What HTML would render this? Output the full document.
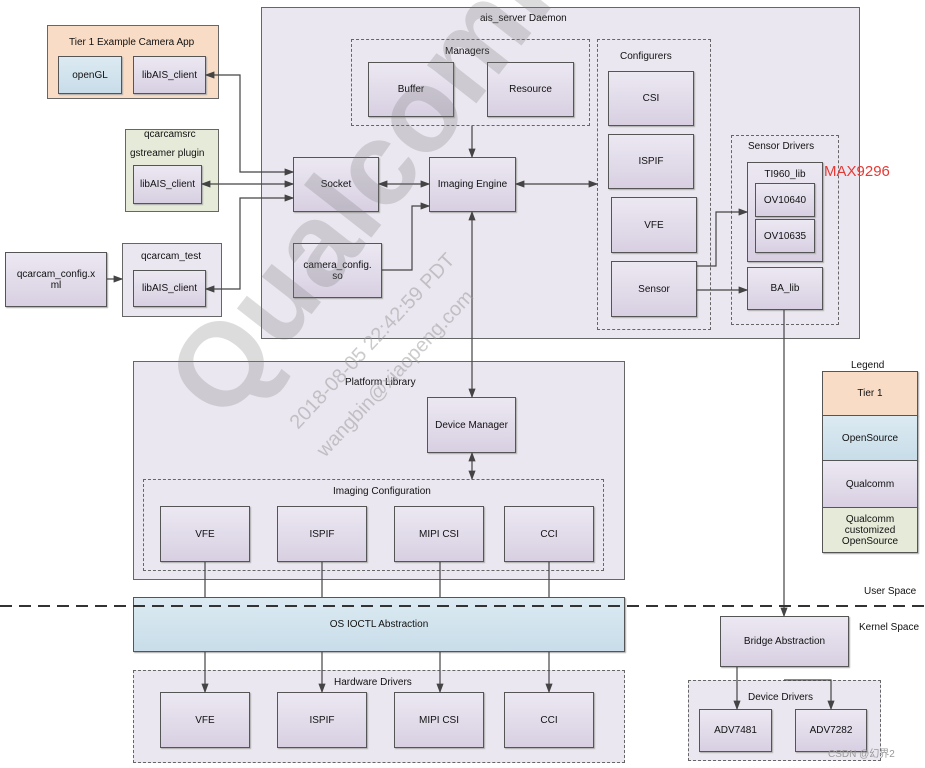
<!DOCTYPE html>
<html><head><meta charset="utf-8"><style>
body{margin:0;width:925px;height:768px;background:#fff;position:relative;overflow:hidden;font-family:"Liberation Sans","Noto Sans CJK SC",sans-serif;font-size:10px;color:#111}
.b{position:absolute;box-sizing:border-box;border:1.5px solid #555;background:linear-gradient(#ece8f2,#d8d0e2);display:flex;align-items:center;justify-content:center;text-align:center;box-shadow:1px 1px 1px #aaa}
.c{position:absolute;box-sizing:border-box;border:1px solid #666;background:#ebe7f0}
.d{position:absolute;box-sizing:border-box;border:1px dashed #666}
.t{position:absolute;font-size:10px;white-space:nowrap}
</style></head><body>
<div class="c" style="left:261px;top:7px;width:599px;height:332px"></div>
<div class="t" style="left:480px;top:13px">ais_server Daemon</div>
<div class="d" style="left:351px;top:39px;width:239px;height:87px"></div>
<div class="t" style="left:445px;top:46px">Managers</div>
<div class="b" style="left:368px;top:62px;width:86px;height:55px">Buffer</div>
<div class="b" style="left:487px;top:62px;width:87px;height:55px">Resource</div>
<div class="c" style="left:47px;top:25px;width:172px;height:74px;background:#f9dcc6"></div>
<div class="t" style="left:69px;top:37px">Tier 1 Example Camera App</div>
<div class="b" style="left:58px;top:56px;width:64px;height:38px;background:linear-gradient(#dceaf2,#c8dde9)">openGL</div>
<div class="b" style="left:133px;top:56px;width:73px;height:38px">libAIS_client</div>
<div class="c" style="left:125px;top:129px;width:94px;height:83px;background:#e6ebd9"></div>
<div class="t" style="left:144px;top:129px">qcarcamsrc</div>
<div class="t" style="left:130px;top:148px">gstreamer plugin</div>
<div class="b" style="left:133px;top:165px;width:69px;height:39px">libAIS_client</div>
<div class="b" style="left:5px;top:252px;width:102px;height:55px">qcarcam_config.x<br>ml</div>
<div class="c" style="left:122px;top:243px;width:100px;height:74px"></div>
<div class="t" style="left:141px;top:251px">qcarcam_test</div>
<div class="b" style="left:133px;top:270px;width:73px;height:37px">libAIS_client</div>
<div class="b" style="left:293px;top:157px;width:86px;height:55px">Socket</div>
<div class="b" style="left:429px;top:157px;width:87px;height:55px">Imaging Engine</div>
<div class="b" style="left:293px;top:243px;width:89px;height:55px">camera_config.<br>so</div>
<div class="d" style="left:597px;top:39px;width:114px;height:291px"></div>
<div class="t" style="left:620px;top:51px">Configurers</div>
<div class="b" style="left:608px;top:71px;width:86px;height:55px">CSI</div>
<div class="b" style="left:608px;top:134px;width:86px;height:55px">ISPIF</div>
<div class="b" style="left:611px;top:197px;width:86px;height:56px">VFE</div>
<div class="b" style="left:611px;top:261px;width:86px;height:56px">Sensor</div>
<div class="d" style="left:731px;top:135px;width:108px;height:190px"></div>
<div class="t" style="left:748px;top:141px">Sensor Drivers</div>
<div class="b" style="left:747px;top:162px;width:76px;height:100px;align-items:flex-start;padding-top:6px">TI960_lib</div>
<div class="t" style="left:824px;top:163px;color:#e53935;font-size:15px">MAX9296</div>
<div class="b" style="left:755px;top:183px;width:60px;height:34px">OV10640</div>
<div class="b" style="left:755px;top:219px;width:60px;height:34px">OV10635</div>
<div class="b" style="left:747px;top:267px;width:76px;height:43px">BA_lib</div>
<div class="c" style="left:133px;top:361px;width:492px;height:219px"></div>
<div class="t" style="left:345px;top:377px">Platform Library</div>
<div class="b" style="left:427px;top:397px;width:89px;height:56px">Device Manager</div>
<div class="d" style="left:143px;top:479px;width:461px;height:92px"></div>
<div class="t" style="left:333px;top:486px">Imaging Configuration</div>
<div class="b" style="left:160px;top:506px;width:90px;height:56px">VFE</div>
<div class="b" style="left:277px;top:506px;width:90px;height:56px">ISPIF</div>
<div class="b" style="left:394px;top:506px;width:90px;height:56px">MIPI CSI</div>
<div class="b" style="left:504px;top:506px;width:90px;height:56px">CCI</div>
<div class="b" style="left:133px;top:597px;width:492px;height:55px;background:linear-gradient(#dceaf2,#c8dde9)">OS IOCTL Abstraction</div>
<div class="d" style="left:133px;top:670px;width:492px;height:93px;background:#ebe7f0"></div>
<div class="t" style="left:334px;top:677px">Hardware Drivers</div>
<div class="b" style="left:160px;top:692px;width:90px;height:56px">VFE</div>
<div class="b" style="left:277px;top:692px;width:90px;height:56px">ISPIF</div>
<div class="b" style="left:394px;top:692px;width:90px;height:56px">MIPI CSI</div>
<div class="b" style="left:504px;top:692px;width:90px;height:56px">CCI</div>
<div class="t" style="left:851px;top:360px">Legend</div>
<div class="b" style="left:822px;top:371px;width:96px;height:45px;background:#f9dcc6">Tier 1</div>
<div class="b" style="left:822px;top:415px;width:96px;height:46px;background:linear-gradient(#dceaf2,#c8dde9)">OpenSource</div>
<div class="b" style="left:822px;top:460px;width:96px;height:48px">Qualcomm</div>
<div class="b" style="left:822px;top:507px;width:96px;height:46px;background:#e6ebd9">Qualcomm<br>customized<br>OpenSource</div>
<div class="t" style="left:864px;top:586px">User Space</div>
<div class="t" style="left:859px;top:622px">Kernel Space</div>
<div class="b" style="left:720px;top:616px;width:129px;height:51px">Bridge Abstraction</div>
<div class="d" style="left:688px;top:680px;width:193px;height:81px;background:#ebe7f0"></div>
<div class="t" style="left:748px;top:692px">Device Drivers</div>
<div class="b" style="left:699px;top:709px;width:73px;height:43px">ADV7481</div>
<div class="b" style="left:795px;top:709px;width:72px;height:43px">ADV7282</div>
<div class="t" style="left:828px;top:745px;color:#999">CSDN @幻界2</div>
<svg width="925" height="768" style="position:absolute;left:0;top:0">
<defs><marker id="a" markerWidth="8" markerHeight="6" refX="7" refY="3" orient="auto-start-reverse"><path d="M0,0L8,3L0,6z" fill="#444"/></marker></defs>
<g stroke="#444" stroke-width="1.2" fill="none">
<path d="M206,75H240V172H293" marker-start="url(#a)" marker-end="url(#a)"/>
<path d="M202,184H293" marker-start="url(#a)" marker-end="url(#a)"/>
<path d="M206,289H240V198H293" marker-start="url(#a)" marker-end="url(#a)"/>
<path d="M107,279H122" marker-end="url(#a)"/>
<path d="M379,184H429" marker-start="url(#a)" marker-end="url(#a)"/>
<path d="M382,270H412V206H429" marker-end="url(#a)"/>
<path d="M472,126V157" marker-end="url(#a)"/>
<path d="M516,184H597" marker-start="url(#a)" marker-end="url(#a)"/>
<path d="M472,212V397" marker-start="url(#a)" marker-end="url(#a)"/>
<path d="M472,453V479" marker-start="url(#a)" marker-end="url(#a)"/>
<path d="M697,266H716V212H747" marker-end="url(#a)"/>
<path d="M697,290H747" marker-end="url(#a)"/>
<path d="M784,310V616" marker-end="url(#a)"/>
<path d="M737,667V709" marker-end="url(#a)"/>
<path d="M784,680H831V709" marker-end="url(#a)"/>
<path d="M205,562V597M322,562V597M440,562V597M549,562V597"/>
<path d="M205,652V692" marker-end="url(#a)"/>
<path d="M322,652V692" marker-end="url(#a)"/>
<path d="M440,652V692" marker-end="url(#a)"/>
<path d="M549,652V692" marker-end="url(#a)"/>
</g>
<line x1="0" y1="606" x2="925" y2="606" stroke="#333" stroke-width="2" stroke-dasharray="12,7"/>
<text x="225" y="425" font-family="Liberation Sans" font-size="118" font-weight="bold" fill="#777" opacity="0.25" transform="rotate(-52 225 425)">Qualcomm</text>
<text x="298" y="430" font-family="Liberation Sans" font-size="20" fill="#999" opacity="0.5" transform="rotate(-47 298 430)">2018-08-05 22:42:59 PDT</text>
<text x="325" y="458" font-family="Liberation Sans" font-size="20" fill="#999" opacity="0.5" transform="rotate(-47 325 458)">wangbin@xiaopeng.com</text>
</svg>
</body></html>
